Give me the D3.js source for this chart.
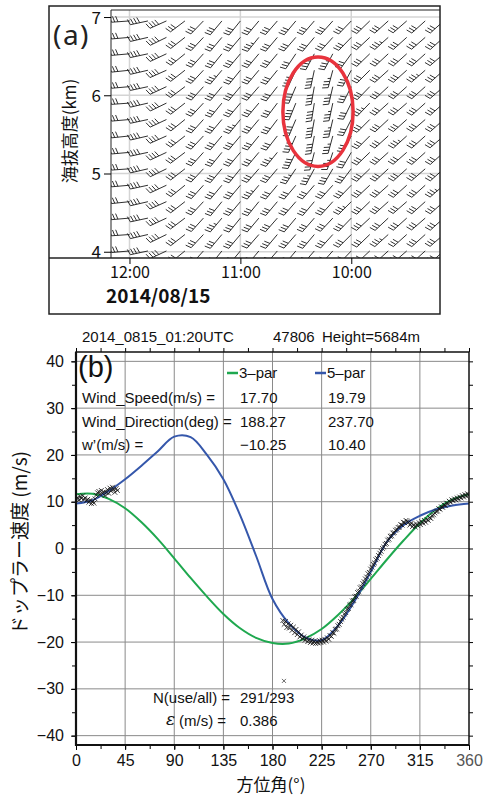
<!DOCTYPE html>
<html>
<head>
<meta charset="utf-8">
<script src="https://cdn.jsdelivr.net/npm/d3@7"></script>
<style>
  body { margin: 0; background: #fff; }
  svg { display: block; }
</style>
</head>
<body>
<div id="chart"></div>
<script>
// ---------- panel (a): wind profiler barbs ----------
const barbTimes = ['12:00', '11:50', '11:40', '11:30', '11:20', '11:10', '11:00', '10:50', '10:40',
                   '10:30', '10:20', '10:10', '10:00', '09:50', '09:40', '09:30', '09:20', '09:10'];
const barbHeights = [6.95, 6.74, 6.53, 6.32, 6.11, 5.90, 5.69, 5.48, 5.27, 5.06, 4.85, 4.64, 4.43, 4.22, 4.01];

// wind direction (deg, from) per height row, per time column
const barbDir = [
  [266, 258, 246, 233, 224, 220, 219, 220, 221, 220, 221, 222, 224, 226, 228, 229, 228, 228],
  [265, 257, 244, 232, 223, 220, 220, 219, 220, 221, 220, 222, 224, 227, 228, 228, 229, 228],
  [265, 258, 245, 231, 222, 219, 220, 220, 220, 214, 208, 208, 216, 226, 227, 228, 228, 229],
  [264, 257, 246, 232, 223, 220, 219, 220, 219, 205, 192, 195, 208, 225, 228, 228, 229, 228],
  [265, 258, 245, 233, 222, 220, 220, 221, 218, 203, 190, 193, 207, 224, 227, 228, 228, 229],
  [266, 257, 244, 232, 223, 219, 220, 220, 217, 202, 189, 192, 206, 224, 228, 229, 228, 228],
  [265, 258, 245, 231, 222, 220, 219, 220, 217, 203, 190, 193, 207, 225, 227, 228, 229, 228],
  [264, 257, 246, 232, 223, 220, 220, 219, 218, 204, 191, 195, 208, 225, 228, 228, 228, 229],
  [265, 258, 245, 233, 222, 219, 220, 220, 219, 206, 194, 198, 210, 226, 228, 229, 228, 228],
  [266, 257, 244, 232, 223, 220, 219, 221, 220, 214, 208, 210, 217, 226, 227, 228, 229, 228],
  [265, 258, 245, 231, 222, 220, 220, 220, 220, 220, 221, 222, 224, 227, 228, 228, 228, 229],
  [264, 257, 246, 232, 223, 219, 220, 219, 220, 221, 220, 222, 225, 226, 228, 229, 228, 228],
  [265, 258, 245, 233, 222, 220, 219, 220, 221, 220, 221, 223, 224, 227, 227, 228, 229, 228],
  [266, 257, 244, 232, 223, 220, 220, 221, 220, 221, 220, 222, 225, 226, 228, 228, 228, 229],
  [265, 258, 245, 231, 222, 219, 220, 220, 221, 220, 221, 222, 224, 227, 228, 229, 228, 228]
];

// wind speed (m/s) per height row, per time column
const barbSpeed = [
  [16, 21, 21, 17, 16, 16, 16, 16, 16, 16, 16, 16, 16, 16, 16, 16, 16, 16],
  [16, 21, 21, 17, 16, 16, 16, 19, 16, 16, 16, 16, 16, 16, 19, 16, 16, 16],
  [16, 21, 21, 17, 16, 16, 16, 16, 16, 16, 19, 19, 16, 16, 16, 16, 16, 16],
  [16, 21, 21, 17, 16, 19, 16, 16, 16, 21, 21, 19, 16, 16, 16, 16, 19, 16],
  [16, 21, 21, 17, 16, 16, 16, 16, 16, 21, 21, 19, 16, 16, 16, 16, 16, 16],
  [16, 21, 21, 17, 16, 16, 16, 16, 16, 21, 21, 19, 16, 19, 16, 16, 16, 16],
  [16, 21, 21, 17, 16, 16, 19, 16, 16, 21, 21, 19, 16, 16, 16, 16, 16, 16],
  [16, 21, 21, 17, 16, 16, 16, 16, 16, 21, 21, 19, 16, 16, 16, 19, 16, 16],
  [16, 21, 21, 17, 16, 16, 16, 16, 19, 21, 21, 19, 16, 16, 16, 16, 16, 16],
  [16, 21, 21, 17, 16, 16, 16, 16, 16, 19, 19, 16, 16, 16, 16, 16, 16, 16],
  [16, 21, 21, 17, 16, 16, 16, 19, 16, 16, 16, 16, 16, 16, 16, 16, 16, 19],
  [16, 21, 21, 17, 16, 16, 16, 16, 16, 16, 16, 16, 19, 16, 16, 16, 16, 16],
  [16, 21, 21, 17, 16, 19, 16, 16, 16, 16, 16, 16, 16, 16, 16, 16, 16, 16],
  [16, 21, 21, 17, 16, 16, 16, 16, 16, 16, 16, 16, 16, 16, 19, 16, 16, 16],
  [16, 21, 21, 17, 16, 16, 16, 16, 16, 16, 16, 16, 16, 16, 16, 16, 16, 16]
];

const timeTicks = ['12:00', '11:00', '10:00'];
const heightTicks = [4, 5, 6, 7];
const dateLabel = '2014/08/15';
// red highlight ellipse, in data units
const markFrom = '10:37', markTo = '09:59', markLow = 5.09, markHigh = 6.49;

// ---------- panel (b): VAD fit ----------
const azTicks = [0, 45, 90, 135, 180, 225, 270, 315, 360];
const velTicks = [-40, -30, -20, -10, 0, 10, 20, 30, 40];

const fitAz   = [0, 15, 30, 45, 60, 75, 90, 105, 120, 135, 150, 165, 180, 195, 210, 225, 240, 255, 270, 285, 300, 315, 330, 345, 360];
const fit3par = [11.6, 11.7, 10.6, 8.6, 5.6, 2.0, -2.1, -6.3, -10.3, -14.0, -17.0, -19.1, -20.2, -20.3, -19.2, -17.2, -14.2, -10.6, -6.5, -2.3, 1.7, 5.4, 8.4, 10.5, 11.6];
const fit5par = [9.6, 10.3, 12.3, 14.8, 17.7, 20.8, 23.9, 23.8, 20.0, 14.8, 7.3, -1.6, -10.8, -16.0, -19.0, -19.6, -16.5, -11.3, -5.0, 1.5, 5.0, 7.0, 8.4, 9.2, 9.6];

const obsAz = [
  0.5, 1.6, 2.8, 3.9, 5.0, 6.2, 7.3, 8.4, 9.6, 10.7, 11.8, 13.0, 14.1, 15.2, 16.4, 17.5, 18.6, 19.8, 20.9, 22.0,
  23.2, 24.3, 25.4, 26.6, 27.7, 28.8, 30.0, 31.1, 32.2, 33.4, 34.5, 35.6, 36.8, 37.9,
  189.5, 190.7, 191.9, 193.1, 194.3, 195.5, 196.7, 197.9, 199.1, 200.3, 201.5, 202.7, 203.9, 205.1, 206.3, 207.5,
  208.7, 209.9, 211.1, 212.3, 213.5, 214.7, 215.9, 217.1, 218.3, 219.5, 220.7, 221.9, 223.1, 224.3, 225.5, 226.7,
  227.9, 229.1, 230.3, 231.5, 232.7, 233.9, 235.1, 236.3, 237.5, 238.7, 239.9, 241.1, 242.3, 243.5, 244.7, 245.9,
  247.1, 248.3, 249.5, 250.7, 251.9, 253.1, 254.3, 255.5, 256.7, 257.9, 259.1, 260.3, 261.5, 262.7, 263.9, 265.1,
  266.3, 267.5, 268.7, 269.9, 271.1, 272.3, 273.5, 274.7, 275.9, 277.1, 278.3, 279.5, 280.7, 281.9, 283.1, 284.3,
  285.5, 286.7, 287.9, 289.1, 290.3, 291.5, 292.7, 293.9, 295.1, 296.3, 297.5, 298.7, 299.9, 301.1, 302.3, 303.5,
  304.7, 305.9, 307.1, 308.3, 309.5, 310.7, 311.9, 313.1, 314.3, 315.5, 316.7, 317.9, 319.1, 320.3, 321.5, 322.7,
  323.9, 325.1, 326.3, 327.5, 328.7, 329.9, 331.1, 332.3, 333.5, 334.7, 335.9, 337.1, 338.3, 339.5, 340.7, 341.9,
  343.1, 344.3, 345.5, 346.7, 347.9, 349.1, 350.3, 351.5, 352.7, 353.9, 355.1, 356.3, 357.5, 358.7, 359.6
];
const obsVel = [
  10.6, 10.9, 10.4, 11.1, 10.7, 11.3, 10.5, 10.8, 10.2, 10.5, 9.9, 10.3, 9.6, 10.1, 9.7, 10.6, 11.4, 11.9, 12.2, 11.6,
  12.4, 11.8, 12.1, 11.3, 12.0, 12.6, 11.8, 12.9, 12.3, 13.1, 12.6, 12.0, 12.8, 12.4,
  -15.4, -16.2, -15.6, -16.9, -16.1, -17.0, -16.4, -17.5, -16.8, -18.0, -17.3, -18.4, -17.8, -18.9, -18.5, -19.3,
  -18.9, -19.6, -19.2, -19.9, -19.5, -20.1, -19.6, -20.2, -19.8, -20.3, -19.9, -20.2, -19.7, -20.1, -19.6, -20.0,
  -19.4, -19.8, -19.1, -19.4, -18.6, -18.8, -18.0, -18.1, -17.3, -17.2, -16.5, -16.2, -15.6, -15.1, -14.7, -14.0,
  -13.7, -13.0, -12.8, -12.1, -12.0, -11.2, -11.1, -10.3, -10.2, -9.4, -9.2, -8.4, -8.2, -7.5, -7.1, -6.5,
  -6.1, -5.4, -5.1, -4.4, -4.0, -3.4, -3.1, -2.4, -2.1, -1.5, -1.0, -0.6, 0.0, 0.3, 0.9, 1.1,
  1.8, 2.0, 2.6, 2.7, 3.3, 3.4, 3.9, 4.1, 4.5, 4.6, 5.1, 5.0, 5.6, 5.5, 6.0, 5.8,
  5.6, 5.0, 5.4, 4.7, 5.1, 4.6, 5.2, 4.9, 5.5, 5.1, 5.7, 5.4, 6.0, 5.6, 6.2, 6.0,
  6.6, 6.4, 7.0, 7.2, 7.6, 7.9, 8.0, 8.5, 8.4, 8.9, 8.8, 9.3, 9.2, 9.7, 9.6, 10.1,
  9.9, 10.4, 10.2, 10.6, 10.4, 10.8, 10.6, 11.0, 10.8, 11.3, 11.0, 11.5, 11.2, 11.7, 11.4
];
const rejectAz = [190.5];
const rejectVel = [-28.3];

const headerLeft = '2014_0815_01:20UTC';
const headerStation = '47806';
const headerHeight = 'Height=5684m';
const legendNames = ['3–par', '5–par'];
const legendColors = ['#1fa84f', '#3557ab'];
const tableLabels = ['Wind_Speed(m/s) =', 'Wind_Direction(deg) =', 'w’(m/s) ='];
const table3par = ['17.70', '188.27', '−10.25'];
const table5par = ['19.79', '237.70', '10.40'];

// ================= drawing =================
const svg = d3.select('#chart').append('svg')
    .attr('width', 488)
    .attr('height', 796);

const sansJP = '"Noto Sans CJK JP", "Noto Sans", sans-serif';
const sansEN = '"Liberation Sans", Arial, sans-serif';
const parseT = d3.timeParse('%H:%M');

// ---------- panel (a) ----------
const pa = { left: 111, right: 440, top: 10, bottom: 258, frameL: 49, frameT: 6, frameB: 314 };

const xa = d3.scaleTime()
    .domain([parseT('12:10'), parseT('09:12')])
    .range([pa.left, pa.right]);
const ya = d3.scaleLinear()
    .domain([3.92, 7.09])
    .range([pa.bottom, pa.top]);

const ga = svg.append('g').attr('class', 'panel-a');

ga.append('clipPath').attr('id', 'clip-a')
  .append('rect')
    .attr('x', pa.left).attr('y', pa.top)
    .attr('width', pa.right - pa.left).attr('height', pa.bottom - pa.top);

// gridlines
ga.append('g')
  .selectAll('line')
    .data(heightTicks)
  .enter().append('line')
    .attr('x1', pa.left).attr('x2', pa.right)
    .attr('y1', d => ya(d)).attr('y2', d => ya(d))
    .attr('stroke', '#d4d4d4').attr('stroke-width', 1.5);

ga.append('g')
  .selectAll('line')
    .data(timeTicks)
  .enter().append('line')
    .attr('x1', d => xa(parseT(d))).attr('x2', d => xa(parseT(d)))
    .attr('y1', pa.top).attr('y2', pa.bottom)
    .attr('stroke', '#d4d4d4').attr('stroke-width', 1.5);

// wind barbs
function barbPath(dir, spd) {
    const len = 18, fl = 6, gap = 3.2, ang = 72 * Math.PI / 180;
    const r = dir * Math.PI / 180;
    const vx = Math.sin(r), vy = -Math.cos(r);     // toward where the wind comes from
    const px = Math.cos(r), py = Math.sin(r);      // clockwise perpendicular
    const fx = Math.cos(ang) * vx + Math.sin(ang) * px;
    const fy = Math.cos(ang) * vy + Math.sin(ang) * py;
    const tx = vx * len, ty = vy * len;
    let p = `M0,0L${tx},${ty}`;
    const kt = spd * 1.944;
    const full = Math.floor(kt / 10);
    const half = (kt % 10) >= 5;
    for (let j = 0; j < full; j++) {
        const sx = tx - vx * gap * j, sy = ty - vy * gap * j;
        p += `M${sx},${sy}L${sx + fx * fl},${sy + fy * fl}`;
    }
    if (half) {
        const j = full;
        const sx = tx - vx * gap * j, sy = ty - vy * gap * j;
        p += `M${sx},${sy}L${sx + fx * fl / 2},${sy + fy * fl / 2}`;
    }
    return p;
}

const barbs = [];
barbHeights.forEach((h, i) => {
    barbTimes.forEach((t, k) => {
        barbs.push({ t: parseT(t), h: h, dir: barbDir[i][k], spd: barbSpeed[i][k] });
    });
});

ga.append('g')
    .attr('clip-path', 'url(#clip-a)')
  .selectAll('path')
    .data(barbs)
  .enter().append('path')
    .attr('transform', d => `translate(${xa(d.t)},${ya(d.h)})`)
    .attr('d', d => barbPath(d.dir, d.spd))
    .attr('fill', 'none')
    .attr('stroke', '#1a1a1a')
    .attr('stroke-width', 0.9);

// red highlight ellipse
const ex0 = xa(parseT(markFrom)), ex1 = xa(parseT(markTo));
const ey0 = ya(markHigh), ey1 = ya(markLow);
ga.append('ellipse')
    .attr('cx', (ex0 + ex1) / 2).attr('cy', (ey0 + ey1) / 2)
    .attr('rx', (ex1 - ex0) / 2).attr('ry', (ey1 - ey0) / 2)
    .attr('fill', 'none')
    .attr('stroke', '#e8333d')
    .attr('stroke-width', 3.5);

// frames
ga.append('rect')
    .attr('x', pa.frameL).attr('y', pa.frameT)
    .attr('width', pa.right - pa.frameL).attr('height', pa.frameB - pa.frameT)
    .attr('fill', 'none').attr('stroke', '#222').attr('stroke-width', 1.5);
ga.append('line')
    .attr('x1', pa.left).attr('x2', pa.right).attr('y1', pa.top).attr('y2', pa.top)
    .attr('stroke', '#222').attr('stroke-width', 1);
ga.append('line')
    .attr('x1', pa.frameL).attr('x2', pa.right).attr('y1', pa.bottom).attr('y2', pa.bottom)
    .attr('stroke', '#222').attr('stroke-width', 1.5);

// height axis
const heightAxis = d3.axisLeft(ya).tickValues(heightTicks).tickSize(7).tickPadding(3).tickFormat(d3.format('d'));
ga.append('g')
    .attr('transform', `translate(${pa.left},0)`)
    .call(heightAxis)
    .call(g => g.select('.domain').attr('stroke', '#222').attr('d', `M0,${pa.top}V${pa.bottom}`))
    .call(g => g.selectAll('text').attr('font-family', sansJP).attr('font-size', 17).attr('fill', '#111').attr('dy', '0.36em'));

// time axis
const timeAxis = d3.axisBottom(xa).tickValues(timeTicks.map(parseT)).tickSize(6).tickPadding(3)
    .tickFormat(d3.timeFormat('%H:%M'));
ga.append('g')
    .attr('transform', `translate(0,${pa.bottom})`)
    .call(timeAxis)
    .call(g => g.select('.domain').remove())
    .call(g => g.selectAll('text').attr('font-family', sansJP).attr('font-size', 16).attr('fill', '#111'));

ga.append('text')
    .attr('x', 106).attr('y', 303)
    .attr('font-family', sansJP).attr('font-size', 19).attr('font-weight', 'bold')
    .attr('fill', '#111')
    .text(dateLabel);

ga.append('text')
    .attr('x', 53).attr('y', 45)
    .attr('font-family', '"Noto Sans", sans-serif').attr('font-size', 28)
    .attr('letter-spacing', 1.5)
    .attr('fill', '#222')
    .text('(a)');

ga.append('text')
    .attr('transform', 'translate(76,131) rotate(-90)')
    .attr('text-anchor', 'middle')
    .attr('font-family', sansJP).attr('font-size', 17)
    .attr('fill', '#111')
    .text('海抜高度(km)');

// ---------- panel (b) ----------
const pb = { left: 76, right: 469, top: 352, bottom: 745 };

const xb = d3.scaleLinear().domain([0, 360]).range([pb.left, pb.right]);
const yb = d3.scaleLinear().domain([-42, 42]).range([pb.bottom, pb.top]);

const gb = svg.append('g').attr('class', 'panel-b');

gb.append('clipPath').attr('id', 'clip-b')
  .append('rect')
    .attr('x', pb.left).attr('y', pb.top)
    .attr('width', pb.right - pb.left).attr('height', pb.bottom - pb.top);

// grid
gb.append('g')
  .selectAll('line')
    .data(azTicks.slice(1, -1))
  .enter().append('line')
    .attr('x1', d => xb(d)).attr('x2', d => xb(d))
    .attr('y1', pb.top).attr('y2', pb.bottom)
    .attr('stroke', '#8a8a8a').attr('stroke-width', 1);
gb.append('g')
  .selectAll('line')
    .data(velTicks)
  .enter().append('line')
    .attr('x1', pb.left).attr('x2', pb.right)
    .attr('y1', d => yb(d)).attr('y2', d => yb(d))
    .attr('stroke', '#8a8a8a').attr('stroke-width', 1);

// header
const header = gb.append('g')
    .attr('font-family', sansEN).attr('font-size', 15).attr('fill', '#111');
header.append('text').attr('x', 82).attr('y', 342).text(headerLeft);
header.append('text').attr('x', 273).attr('y', 342).text(headerStation);
header.append('text').attr('x', 322).attr('y', 342).text(headerHeight);

gb.append('text')
    .attr('x', 78).attr('y', 377)
    .attr('font-family', sansEN).attr('font-size', 29)
    .attr('fill', '#111')
    .text('(b)');

// legend + table
const legendX = [227, 315];
legendNames.forEach((name, i) => {
    gb.append('line')
        .attr('x1', legendX[i]).attr('x2', legendX[i] + 11)
        .attr('y1', 373).attr('y2', 373)
        .attr('stroke', legendColors[i]).attr('stroke-width', 2.5);
    gb.append('text')
        .attr('x', legendX[i] + 12).attr('y', 378)
        .attr('font-family', sansEN).attr('font-size', 15).attr('fill', '#111')
        .text(name);
});

const tableY = [403, 427, 450];
const table = gb.append('g')
    .attr('font-family', sansEN).attr('font-size', 15).attr('fill', '#111');
tableLabels.forEach((lab, i) => {
    table.append('text').attr('x', 82).attr('y', tableY[i]).text(lab);
    table.append('text').attr('x', 240).attr('y', tableY[i]).text(table3par[i]);
    table.append('text').attr('x', 328).attr('y', tableY[i]).text(table5par[i]);
});

// fitted curves
const fitLine = (vals) => d3.line()
    .x((d, i) => xb(fitAz[i]))
    .y((d) => yb(d))
    .curve(d3.curveCatmullRom.alpha(0.5))(vals);

const curves = gb.append('g').attr('clip-path', 'url(#clip-b)');
curves.append('path')
    .attr('d', fitLine(fit3par))
    .attr('fill', 'none').attr('stroke', legendColors[0]).attr('stroke-width', 2);
curves.append('path')
    .attr('d', fitLine(fit5par))
    .attr('fill', 'none').attr('stroke', legendColors[1]).attr('stroke-width', 2);

// observations
const cross = 'M-2.4,-2.4L2.4,2.4M-2.4,2.4L2.4,-2.4';
curves.append('g')
  .selectAll('path')
    .data(obsAz.map((a, i) => [a, obsVel[i]]))
  .enter().append('path')
    .attr('transform', d => `translate(${xb(d[0])},${yb(d[1])})`)
    .attr('d', cross)
    .attr('fill', 'none').attr('stroke', '#111').attr('stroke-width', 0.8);
curves.append('g')
  .selectAll('path')
    .data(rejectAz.map((a, i) => [a, rejectVel[i]]))
  .enter().append('path')
    .attr('transform', d => `translate(${xb(d[0])},${yb(d[1])})`)
    .attr('d', 'M-2,-2L2,2M-2,2L2,-2')
    .attr('fill', 'none').attr('stroke', '#444').attr('stroke-width', 0.8);

// bottom-left stats
const stats = gb.append('g')
    .attr('font-family', sansEN).attr('font-size', 15).attr('fill', '#111');
stats.append('text').attr('x', 153).attr('y', 703).text('N(use/all) =');
stats.append('text').attr('x', 240).attr('y', 703).text('291/293');
stats.append('text').attr('x', 166).attr('y', 725)
    .attr('font-family', '"DejaVu Serif", serif').attr('font-style', 'italic').attr('font-size', 17)
    .text('ε');
stats.append('text').attr('x', 179).attr('y', 726).text('(m/s) =');
stats.append('text').attr('x', 240).attr('y', 726).text('0.386');

// axes
const minorAz = d3.range(0, 361, 22.5);
const minorVel = d3.range(-40, 41, 5);

gb.append('g')
    .attr('transform', `translate(0,${pb.bottom})`)
    .call(d3.axisBottom(xb).tickValues(minorAz).tickSize(4).tickFormat(''))
    .call(g => g.select('.domain').remove());
gb.append('g')
    .attr('transform', `translate(0,${pb.top})`)
    .call(d3.axisTop(xb).tickValues(minorAz).tickSize(4).tickFormat(''))
    .call(g => g.select('.domain').remove());
gb.append('g')
    .attr('transform', `translate(${pb.left},0)`)
    .call(d3.axisLeft(yb).tickValues(minorVel).tickSize(4).tickFormat(''))
    .call(g => g.select('.domain').remove());
gb.append('g')
    .attr('transform', `translate(${pb.right},0)`)
    .call(d3.axisRight(yb).tickValues(minorVel).tickSize(4).tickFormat(''))
    .call(g => g.select('.domain').remove());

const xAxisB = gb.append('g')
    .attr('transform', `translate(0,${pb.bottom})`)
    .call(d3.axisBottom(xb).tickValues(azTicks).tickSize(5).tickPadding(5))
    .call(g => g.select('.domain').remove());
xAxisB.selectAll('text')
    .attr('font-family', sansEN).attr('font-size', 16).attr('fill', '#111');
xAxisB.selectAll('text').filter(d => d === 360).attr('fill', '#555');

gb.append('g')
    .attr('transform', `translate(${pb.left},0)`)
    .call(d3.axisLeft(yb).tickValues(velTicks).tickSize(5).tickPadding(7))
    .call(g => g.select('.domain').remove())
    .call(g => g.selectAll('text').attr('font-family', sansEN).attr('font-size', 16).attr('fill', '#111'));

// frame
gb.append('rect')
    .attr('x', pb.left).attr('y', pb.top)
    .attr('width', pb.right - pb.left).attr('height', pb.bottom - pb.top)
    .attr('fill', 'none').attr('stroke', '#111').attr('stroke-width', 1.5);
gb.append('path')
    .attr('d', `M${pb.left},${pb.top}V${pb.bottom}H${pb.right}`)
    .attr('fill', 'none').attr('stroke', '#111').attr('stroke-width', 2.2);

// axis titles
gb.append('text')
    .attr('x', 271).attr('y', 791)
    .attr('text-anchor', 'middle')
    .attr('font-family', sansJP).attr('font-size', 17).attr('fill', '#111')
    .text('方位角(°)');
gb.append('text')
    .attr('transform', 'translate(27,543) rotate(-90)')
    .attr('text-anchor', 'middle')
    .attr('font-family', sansJP).attr('font-size', 19).attr('fill', '#111')
    .text('ドップラー速度 (m/s)');
</script>
</body>
</html>
